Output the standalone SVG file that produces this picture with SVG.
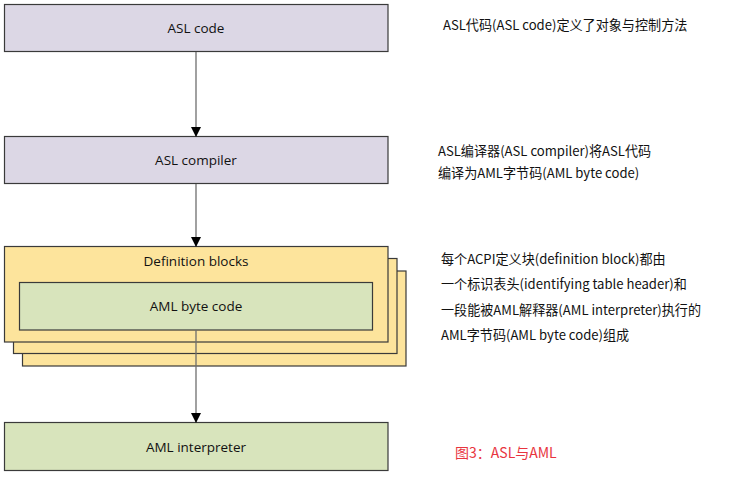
<svg xmlns="http://www.w3.org/2000/svg" width="731" height="477" viewBox="0 0 731 477">
<style>
.box{stroke:#3a3a3a;stroke-width:1.2}
.p{fill:#dcd7e5}
.y{fill:#fde49c}
.g{fill:#d8e4bc}
.lbl{font-family:"Open Sans","Noto Sans",sans-serif;font-size:13.5px;fill:#111;text-anchor:middle}
.note{font-family:"Noto Sans CJK SC",sans-serif;font-size:13.1px;fill:#111}
.cap{font-family:"Noto Sans CJK SC",sans-serif;font-size:14px;fill:#e8343e}
.con{stroke:#6e6e6e;stroke-width:1.3;fill:none;marker-end:url(#ah)}
</style>
<defs>
<marker id="ah" markerWidth="10" markerHeight="10" refX="9" refY="5" orient="auto" markerUnits="userSpaceOnUse">
<path d="M0,0 L10,5 L0,10 z" fill="#000"/>
</marker>
</defs>
<rect width="731" height="477" fill="#fff"/>
<g id="asl-code">
<rect class="box p" x="4.5" y="4.5" width="383.5" height="47"/>
<text class="lbl" x="196" y="33">ASL code</text>
</g>
<g id="asl-compiler">
<rect class="box p" x="4.5" y="136.5" width="383.5" height="47"/>
<text class="lbl" x="196" y="165">ASL compiler</text>
</g>
<g id="definition-blocks">
<rect class="box y" x="22.5" y="271" width="383.5" height="95"/>
<rect class="box y" x="13.5" y="258.5" width="383.5" height="95"/>
<rect class="box y" x="4.5" y="246.5" width="383.5" height="95.5"/>
<text class="lbl" x="196" y="266">Definition blocks</text>
</g>
<g id="aml-byte-code">
<rect class="box g" x="19.5" y="282.5" width="353" height="47.5"/>
<text class="lbl" x="196" y="311">AML byte code</text>
</g>
<g id="aml-interpreter">
<rect class="box g" x="4.5" y="422.5" width="383.5" height="48"/>
<text class="lbl" x="196" y="451.5">AML interpreter</text>
</g>
<g id="connectors">
<line class="con" x1="196" y1="52" x2="196" y2="136"/>
<line class="con" x1="196" y1="184" x2="196" y2="246"/>
<line class="con" x1="196" y1="330" x2="196" y2="422"/>
</g>
<g id="notes">
<text class="note" x="443" y="30">ASL代码(ASL code)定义了对象与控制方法</text>
<text class="note" x="438" y="156">ASL编译器(ASL compiler)将ASL代码</text>
<text class="note" x="438" y="178">编译为AML字节码(AML byte code)</text>
<text class="note" x="441" y="264">每个ACPI定义块(definition block)都由</text>
<text class="note" x="441" y="289">一个标识表头(identifying table header)和</text>
<text class="note" x="441" y="315">一段能被AML解释器(AML interpreter)执行的</text>
<text class="note" x="441" y="340">AML字节码(AML byte code)组成</text>
<text class="cap" x="455" y="458">图3：ASL与AML</text>
</g>
</svg>
